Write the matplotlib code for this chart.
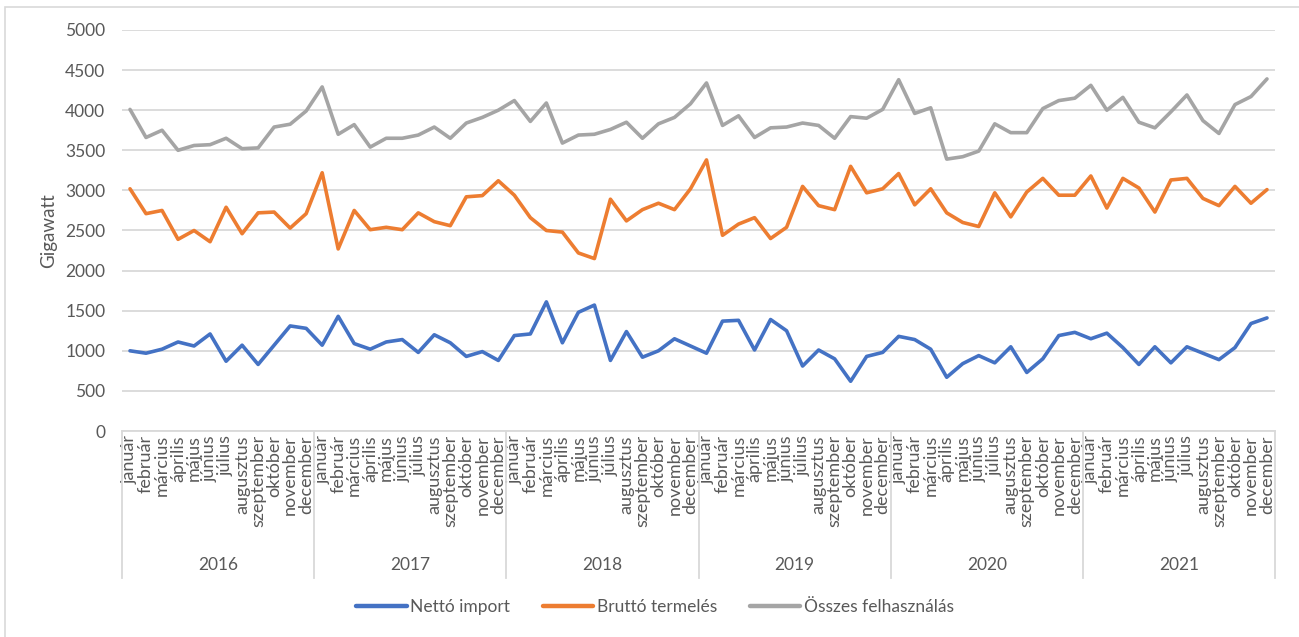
import matplotlib
matplotlib.use("Agg")
import matplotlib.pyplot as plt
from matplotlib.patches import Rectangle
import matplotlib.transforms as mtransforms

plt.rcParams['font.family'] = ['Lato', 'DejaVu Sans']

years = ["2016", "2017", "2018", "2019", "2020", "2021"]
months = ["január", "február", "március", "április", "május", "június",
          "július", "augusztus", "szeptember", "október", "november", "december"]

netto_import = [
    1000, 970, 1020, 1110, 1060, 1210, 870, 1070, 830, 1070, 1310, 1280,
    1070, 1430, 1090, 1020, 1110, 1140, 980, 1200, 1100, 930, 990, 880,
    1190, 1210, 1610, 1100, 1480, 1570, 880, 1240, 920, 1000, 1150, 1060,
    970, 1370, 1380, 1010, 1390, 1250, 810, 1010, 900, 620, 930, 980,
    1180, 1140, 1020, 670, 840, 940, 850, 1050, 730, 900, 1190, 1230,
    1150, 1220, 1040, 830, 1050, 850, 1050, 970, 890, 1040, 1340, 1410,
]
brutto_termeles = [
    3020, 2710, 2750, 2390, 2500, 2360, 2790, 2460, 2720, 2730, 2530, 2710,
    3220, 2270, 2750, 2510, 2540, 2510, 2720, 2610, 2560, 2920, 2935, 3120,
    2940, 2660, 2500, 2480, 2220, 2150, 2890, 2620, 2760, 2840, 2760, 3020,
    3380, 2440, 2580, 2660, 2400, 2540, 3050, 2810, 2760, 3300, 2970, 3020,
    3210, 2820, 3020, 2720, 2600, 2550, 2970, 2670, 2980, 3150, 2940, 2940,
    3180, 2780, 3150, 3030, 2730, 3130, 3150, 2900, 2810, 3050, 2840, 3010,
]
osszes_felhasznalas = [
    4010, 3660, 3750, 3500, 3560, 3570, 3650, 3520, 3530, 3790, 3825, 3990,
    4290, 3700, 3820, 3540, 3650, 3650, 3690, 3790, 3650, 3840, 3910, 4000,
    4120, 3860, 4090, 3590, 3690, 3700, 3760, 3850, 3650, 3830, 3910, 4080,
    4340, 3810, 3930, 3660, 3780, 3790, 3840, 3810, 3650, 3920, 3900, 4010,
    4380, 3960, 4030, 3390, 3420, 3490, 3830, 3720, 3720, 4020, 4120, 4150,
    4310, 4000, 4160, 3850, 3780, 3980, 4190, 3870, 3710, 4070, 4170, 4390,
]
series_names = ["Nettó import", "Bruttó termelés", "Összes felhasználás"]
colors = ["#4472C4", "#ED7D31", "#A5A5A5"]
yticks = [0, 500, 1000, 1500, 2000, 2500, 3000, 3500, 4000, 4500, 5000]

W, H = 1299, 637
fig = plt.figure(figsize=(W / 100, H / 100), dpi=100)
fig.patch.set_facecolor("white")
fig.add_artist(Rectangle((5 / W, -1), 2, 2 - 7 / H, transform=fig.transFigure,
                         fill=False, edgecolor="#D9D9D9", linewidth=1.2))

left, right, top, bottom = 122, 1275, 30, 431
ax = fig.add_axes([left / W, 1 - bottom / H, (right - left) / W, (bottom - top) / H])

n = len(years) * len(months)
x = [i + 0.5 for i in range(n)]
for vals, name, c in zip([netto_import, brutto_termeles, osszes_felhasznalas], series_names, colors):
    ax.plot(x, vals, color=c, linewidth=2.6, label=name, solid_joinstyle="round",
            solid_capstyle="round", zorder=3)

ax.set_xlim(0, n)
ax.set_ylim(0, 5000)
ax.set_yticks(yticks)
ax.set_yticklabels([str(v) for v in yticks], fontsize=12.5, color="#595959")
ax.yaxis.grid(True, color="#D9D9D9", linewidth=1.3)
ax.set_axisbelow(True)
for s in ["top", "right", "left"]:
    ax.spines[s].set_visible(False)
ax.spines["bottom"].set_color("#D9D9D9")
ax.spines["bottom"].set_linewidth(1.3)
ax.tick_params(axis="y", length=0, pad=12)

ax.set_xticks(x)
ax.set_xticklabels(months * len(years), rotation=90, fontsize=13, color="#595959",
                   va="top", ha="center")
ax.tick_params(axis="x", length=0, pad=3)

ax.set_ylabel("Gigawatt", fontsize=13.5, color="#595959", labelpad=6)

trans = mtransforms.blended_transform_factory(ax.transData, ax.transAxes)
sep_bottom = -(578 - bottom) / (bottom - top)
for k in range(len(years) + 1):
    ax.plot([k * 12, k * 12], [0, sep_bottom], transform=trans, color="#D9D9D9",
            linewidth=1.3, clip_on=False)
year_y = -(565 - bottom) / (bottom - top)
for k, yr in enumerate(years):
    ax.text(k * 12 + 6, year_y, yr, transform=trans, ha="center", va="center",
            fontsize=12.5, color="#595959")

handles, labels = ax.get_legend_handles_labels()
leg = fig.legend(handles, labels, loc="center", bbox_to_anchor=(655 / W, 1 - 607 / H),
                 ncol=3, frameon=False, fontsize=12.5, handlelength=2.9,
                 handletextpad=0.2, columnspacing=1.9)
for t in leg.get_texts():
    t.set_color("#595959")
for l in leg.get_lines():
    l.set_linewidth(3.2)

fig.savefig("out.png", dpi=100)
